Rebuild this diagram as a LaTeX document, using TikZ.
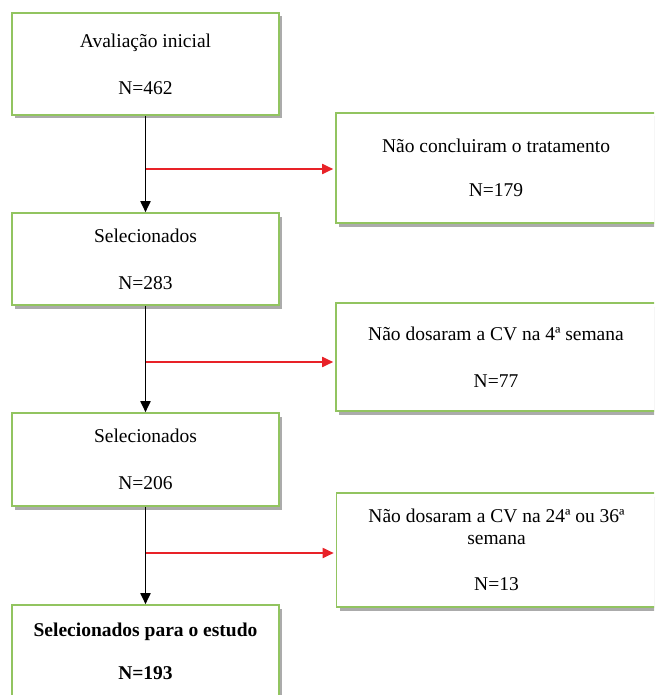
\documentclass[tikz,border=0pt]{standalone}
\usepackage{fontspec}
\setmainfont{Liberation Serif}
\usetikzlibrary{shadows,arrows.meta}
\definecolor{boxgreen}{RGB}{146,196,96}
\definecolor{flowred}{RGB}{232,34,40}
\begin{document}
\begin{tikzpicture}[x=1pt,y=-1pt,>={Triangle[length=11pt,width=10pt]},
  main node/.style={rectangle,draw=boxgreen,line width=1.6pt,fill=white,
    inner sep=0pt,minimum width=267pt,align=center,
    font=\fontsize{19.5}{22}\selectfont,
    drop shadow={shadow xshift=3pt,shadow yshift=-3.5pt,fill=black!55,opacity=.6}},
  side node/.style={main node,minimum width=320pt},
  down arrow/.style={->,line width=1.8pt,black},
  out arrow/.style={->,line width=1.8pt,flowred,shorten >=2pt}]

  \path[use as bounding box,clip] (0,0) rectangle (654,695);

  \node[main node,minimum height=102pt] (aval) at (145.5,64) {Avaliação inicial\\[25pt]N=462};
  \node[side node,minimum height=110pt] (ncon) at (496,168) {Não concluiram o tratamento\\[22pt]N=179};
  \node[main node,minimum height=92pt] (sel1) at (145.5,259) {Selecionados\\[25pt]N=283};
  \node[side node,minimum height=108pt] (ndos4) at (496,357) {Não dosaram a CV na 4ª semana\\[25pt]N=77};
  \node[main node,minimum height=93pt] (sel2) at (145.5,459.5) {Selecionados\\[25pt]N=206};
  \node[side node,minimum height=114pt] (ndos24) at (496.5,550) {Não dosaram a CV na 24ª ou 36ª\\semana\\[24pt]N=13};
  \node[main node,minimum height=93pt,font=\fontsize{19.5}{22}\selectfont\bfseries] (final) at (145.5,651.5) {Selecionados para o estudo\\[21pt]N=193};

  % branch points on the vertical lines
  \coordinate (b1) at (145.5,169);
  \coordinate (b2) at (145.5,362);
  \coordinate (b3) at (145.5,553);

  \draw[out arrow] (b1) -- (b1 -| ncon.west);
  \draw[out arrow] (b2) -- (b2 -| ndos4.west);
  \draw[out arrow] (b3) -- (b3 -| ndos24.west);

  \draw[down arrow] (aval) -- (sel1);
  \draw[down arrow] (sel1) -- (sel2);
  \draw[down arrow] (sel2) -- (final);
\end{tikzpicture}
\end{document}
